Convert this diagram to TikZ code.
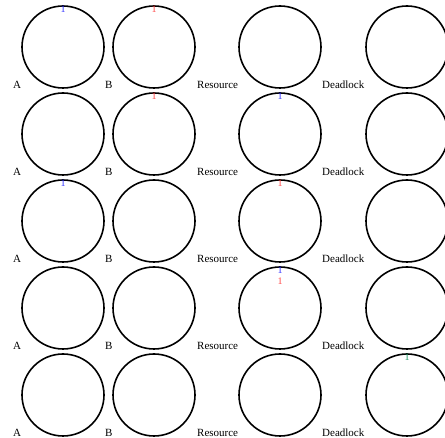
\documentclass[tikz,border=0pt]{standalone}
\usepackage{fontspec}
\setmainfont{Liberation Serif}
\begin{document}
\begin{tikzpicture}[x=1pt,y=-1pt,
  ring/.style={draw=black,circle,line width=1.6pt,minimum size=82pt,inner sep=0pt,outer sep=0pt},
  lab/.style={font=\fontsize{11}{13}\selectfont,inner sep=0pt,anchor=base west,text=black},
  tok/.style={font=\fontsize{10}{12}\selectfont,inner sep=0pt,anchor=base},
  tokA/.style={tok,text={rgb,255:red,50;green,50;blue,255}},
  tokB/.style={tok,text={rgb,255:red,255;green,70;blue,70}},
  tokD/.style={tok,text={rgb,255:red,30;green,150;blue,100}}]
\useasboundingbox (0,0) rectangle (445,438);
\clip (0,0) rectangle (445,438);
\foreach \r in {1,...,5}{
  \pgfmathsetmacro{\cy}{47+87*(\r-1)}
  \pgfmathsetmacro{\ly}{88.5+87*(\r-1)}
  \node[ring] (ca\r) at (63,\cy) {};
  \node[ring] (cb\r) at (154,\cy) {};
  \node[ring] (cr\r) at (280,\cy) {};
  \node[ring] (cd\r) at (407,\cy) {};
  \node[lab] (la\r) at (13,\ly) {A};
  \node[lab] (lb\r) at (105,\ly) {B};
  \node[lab] (lr\r) at (197,\ly) {Resource};
  \node[lab] (ld\r) at (322,\ly) {Deadlock};
}
% row 1
\node[tokA] (t1a) at ([yshift=-6.5pt]ca1.north) {1};
\node[tokB] (t1b) at ([yshift=-6.5pt]cb1.north) {1};
% row 2
\node[tokB] (t2b) at ([yshift=-6.5pt]cb2.north) {1};
\node[tokA] (t2r) at ([yshift=-6.5pt]cr2.north) {1};
% row 3
\node[tokA] (t3a) at ([yshift=-6.5pt]ca3.north) {1};
\node[tokB] (t3r) at ([yshift=-6.5pt]cr3.north) {1};
% row 4
\node[tokA] (t4r) at ([yshift=-6.5pt]cr4.north) {1};
\node[tokB] (t4r2) at ([yshift=-17.5pt]cr4.north) {1};
% row 5
\node[tokD] (t5d) at ([yshift=-6.5pt]cd5.north) {1};
\end{tikzpicture}
\end{document}
